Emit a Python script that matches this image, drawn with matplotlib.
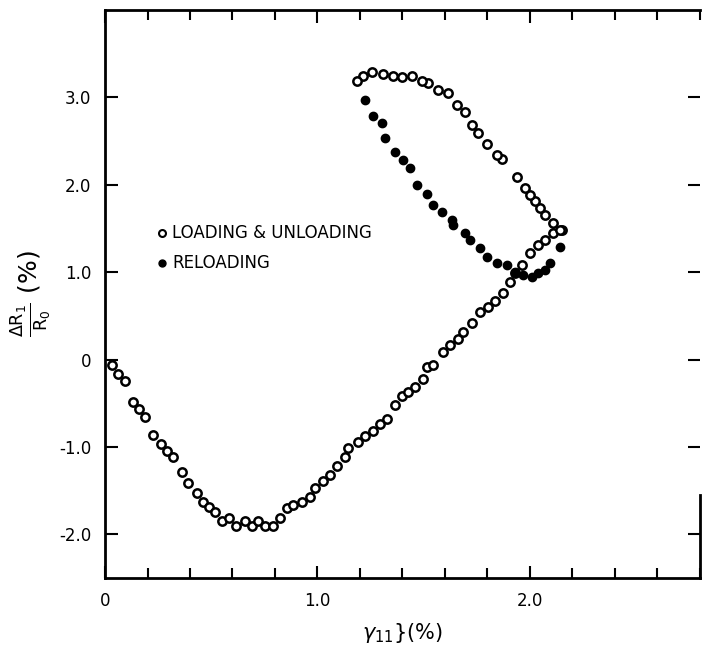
import numpy as np
import matplotlib.pyplot as plt
from matplotlib.ticker import MultipleLocator, FixedLocator

# loading branch (open circles), strain gamma_11 (%) vs dR1/R0 (%)
load_x = [0.033, 0.061, 0.094, 0.132, 0.160, 0.188, 0.226, 0.264, 0.292, 0.320,
          0.362, 0.390, 0.433, 0.461, 0.489, 0.518, 0.550, 0.584, 0.616, 0.659,
          0.692, 0.720, 0.753, 0.790, 0.824, 0.856, 0.885, 0.927, 0.965, 0.988,
          1.026, 1.059, 1.092, 1.129, 1.144, 1.190, 1.224, 1.261, 1.294, 1.327,
          1.365, 1.398, 1.426, 1.459, 1.496, 1.515, 1.544, 1.591, 1.624, 1.661,
          1.685, 1.727, 1.765, 1.802, 1.835, 1.873, 1.906, 1.929, 1.962, 2.000,
          2.038, 2.071, 2.108, 2.150]
load_y = [-0.06, -0.17, -0.25, -0.49, -0.57, -0.66, -0.86, -0.97, -1.05, -1.12,
          -1.29, -1.41, -1.53, -1.63, -1.69, -1.75, -1.85, -1.81, -1.90, -1.85,
          -1.91, -1.85, -1.90, -1.90, -1.81, -1.70, -1.67, -1.63, -1.57, -1.47,
          -1.39, -1.32, -1.22, -1.12, -1.01, -0.94, -0.87, -0.82, -0.74, -0.68,
          -0.52, -0.42, -0.37, -0.31, -0.22, -0.09, -0.06, 0.09, 0.17, 0.23,
          0.32, 0.42, 0.55, 0.60, 0.67, 0.76, 0.89, 0.99, 1.08, 1.22,
          1.31, 1.37, 1.45, 1.48]

# unloading branch (open circles)
unload_x = [2.141, 2.108, 2.071, 2.047, 2.024, 2.000, 1.976, 1.939, 1.868, 1.845,
            1.798, 1.755, 1.727, 1.694, 1.656, 1.614, 1.567, 1.520, 1.492, 1.445,
            1.398, 1.355, 1.308, 1.256, 1.214, 1.186]
unload_y = [1.48, 1.56, 1.65, 1.73, 1.82, 1.88, 1.96, 2.09, 2.30, 2.34,
            2.47, 2.59, 2.68, 2.83, 2.91, 3.05, 3.08, 3.16, 3.19, 3.25,
            3.23, 3.25, 3.27, 3.29, 3.25, 3.19]

# reloading (filled circles)
reload_x = [1.224, 1.261, 1.304, 1.318, 1.365, 1.402, 1.435, 1.468, 1.515, 1.544,
            1.586, 1.633, 1.638, 1.694, 1.718, 1.765, 1.798, 1.845, 1.892, 1.929,
            1.967, 2.009, 2.038, 2.071, 2.094, 2.141]
reload_y = [2.97, 2.79, 2.71, 2.54, 2.37, 2.28, 2.19, 2.00, 1.90, 1.77,
            1.69, 1.60, 1.54, 1.45, 1.37, 1.28, 1.17, 1.10, 1.08, 1.00,
            0.97, 0.95, 0.99, 1.03, 1.11, 1.29]

y_ticks = [3, 2, 1, 0, -1, -2]
y_labels = ['3.0', '2.0', '1.0', '0', '-1.0', '-2.0']
x_ticks = [0, 1, 2]
x_labels = ['0', '1.0', '2.0']

fig = plt.figure(figsize=(7.02, 6.6), dpi=100)
ax = fig.add_axes([0.1496, 0.1242, 0.8474, 0.8606])

open_style = dict(ls='none', marker='o', ms=6, mfc='white', mec='black', mew=1.8)
ax.plot(load_x, load_y, **open_style)
ax.plot(unload_x, unload_y, **open_style)
ax.plot(reload_x, reload_y, ls='none', marker='o', ms=6, mfc='black', mec='black')

# hand-drawn style legend
ax.plot([0.27], [1.45], **dict(open_style, ms=5, mew=1.5))
ax.plot([0.27], [1.10], ls='none', marker='o', ms=5, color='black')
ax.text(0.315, 1.45, 'LOADING & UNLOADING', fontsize=12, va='center', fontweight='medium')
ax.text(0.315, 1.10, 'RELOADING', fontsize=12, va='center', fontweight='medium')

ax.set_xlim(0, 2.8)
ax.set_ylim(-2.5, 4.0)
ax.xaxis.set_major_locator(FixedLocator(x_ticks))
ax.set_xticklabels(x_labels)
ax.xaxis.set_minor_locator(MultipleLocator(0.2))
ax.yaxis.set_major_locator(FixedLocator(y_ticks))
ax.set_yticklabels(y_labels)
ax.tick_params(which='both', direction='in', top=True, right=True, width=1.5,
               labelsize=12, pad=10)
ax.tick_params(which='major', length=9)
ax.tick_params(which='minor', length=7)

for s in ['left', 'bottom', 'top']:
    ax.spines[s].set_linewidth(2)
ax.spines['right'].set_linewidth(2)
ax.spines['right'].set_bounds(-2.5, -1.55)

ax.set_xlabel(r'$\gamma_{11}$}(%)', fontsize=15, labelpad=8)
ax.set_ylabel(r'$\frac{\mathrm{\Delta R_1}}{\mathrm{R_0}}$ (%)', fontsize=18, labelpad=4)

fig.savefig('out.png', dpi=100)
